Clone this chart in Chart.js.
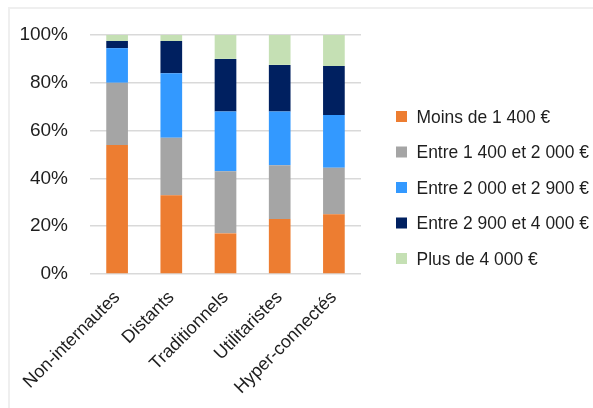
<!DOCTYPE html>
<html lang="fr">
<head>
<meta charset="utf-8">
<title>Revenus par profil</title>
<script src="https://cdn.jsdelivr.net/npm/chart.js@4/dist/chart.umd.min.js"></script>
<style>
  html, body { margin: 0; padding: 0; background: #fff; }
  #wrap { position: relative; width: 593px; height: 408px; overflow: hidden; }
  #frame {
    position: absolute; left: 8px; top: 7px; width: 600px; height: 420px;
    border-top: 2px solid #efefef; border-left: 2px solid #efefef;
  }
  #chart { position: absolute; left: 0; top: 0; }
</style>
</head>
<body>
<div id="wrap">
  <div id="frame"></div>
  <canvas id="chart" width="593" height="408"></canvas>
</div>
<script>
const categories = ["Non-internautes", "Distants", "Traditionnels", "Utilitaristes", "Hyper-connectés"];

const moins1400 = [54, 33, 17, 23, 25];
const de1400a2000 = [26, 24, 26, 22.5, 19.5];
const de2000a2900 = [14.5, 27, 25, 22.5, 22];
const de2900a4000 = [3, 13.5, 22, 19.5, 20.5];
const plus4000 = [2.5, 2.5, 10, 12.5, 13];

const yTicks = [0, 20, 40, 60, 80, 100];

const FONT = "'Liberation Sans', Arial, sans-serif";
const TEXT = "#1e1e1e";

// legend drawn to the right of the plot, one row per dataset;
// labels get squeezed a little so the longest one fits before the edge
const sideLegend = {
  id: "sideLegend",
  afterDraw(chart, args, opts) {
    const ctx = chart.ctx;
    const textX = opts.left + opts.box + opts.gap;
    ctx.save();
    ctx.font = `${opts.fontSize}px ${FONT}`;
    ctx.textBaseline = "middle";
    ctx.textAlign = "left";
    const widest = Math.max(...chart.data.datasets.map((ds) => ctx.measureText(ds.label).width));
    const squeeze = Math.min(1, (chart.width - opts.margin - textX) / widest);
    chart.data.datasets.forEach((ds, i) => {
      const y = opts.top + i * opts.rowHeight;
      ctx.fillStyle = ds.backgroundColor;
      ctx.fillRect(opts.left, y - opts.box / 2, opts.box, opts.box);
      ctx.fillStyle = TEXT;
      const w = ctx.measureText(ds.label).width;
      ctx.fillText(ds.label, textX, y + 1, w * squeeze);
    });
    ctx.restore();
  },
};

const ctx = document.getElementById("chart").getContext("2d");

new Chart(ctx, {
  type: "bar",
  data: {
    labels: categories,
    datasets: [
      { label: "Moins de 1 400 €", data: moins1400, backgroundColor: "#ED7D31" },
      { label: "Entre 1 400 et 2 000 €", data: de1400a2000, backgroundColor: "#A5A5A5" },
      { label: "Entre 2 000 et 2 900 €", data: de2000a2900, backgroundColor: "#3399FF" },
      { label: "Entre 2 900 et 4 000 €", data: de2900a4000, backgroundColor: "#002060" },
      { label: "Plus de 4 000 €", data: plus4000, backgroundColor: "#C5E0B4" },
    ],
  },
  options: {
    responsive: false,
    animation: false,
    layout: {
      padding: { top: 35, right: 232, bottom: 0, left: 0 },
    },
    datasets: {
      bar: {
        barPercentage: 0.4,
        categoryPercentage: 1,
        borderWidth: 0,
      },
    },
    scales: {
      x: {
        stacked: true,
        grid: { display: false },
        border: { display: false },
        ticks: {
          autoSkip: false,
          minRotation: 45,
          maxRotation: 45,
          padding: 5,
          color: TEXT,
          font: { family: FONT, size: 18 },
        },
        afterFit: (scale) => {
          scale.height = 134;
        },
      },
      y: {
        stacked: true,
        min: 0,
        max: 100,
        afterBuildTicks: (scale) => {
          scale.ticks = yTicks.map((v) => ({ value: v }));
        },
        grid: {
          color: "#d9d9d9",
          lineWidth: 1.5,
          drawTicks: false,
        },
        border: { display: false },
        ticks: {
          padding: 22,
          color: TEXT,
          font: { family: FONT, size: 19 },
          callback: (v) => v + "%",
        },
        afterFit: (scale) => {
          scale.width = 90;
        },
      },
    },
    plugins: {
      legend: { display: false },
      tooltip: { enabled: false },
      sideLegend: {
        left: 396,
        top: 116.5,
        rowHeight: 35.5,
        box: 11,
        gap: 9.5,
        fontSize: 18.5,
        margin: 4,
      },
    },
  },
  plugins: [sideLegend],
});
</script>
</body>
</html>
